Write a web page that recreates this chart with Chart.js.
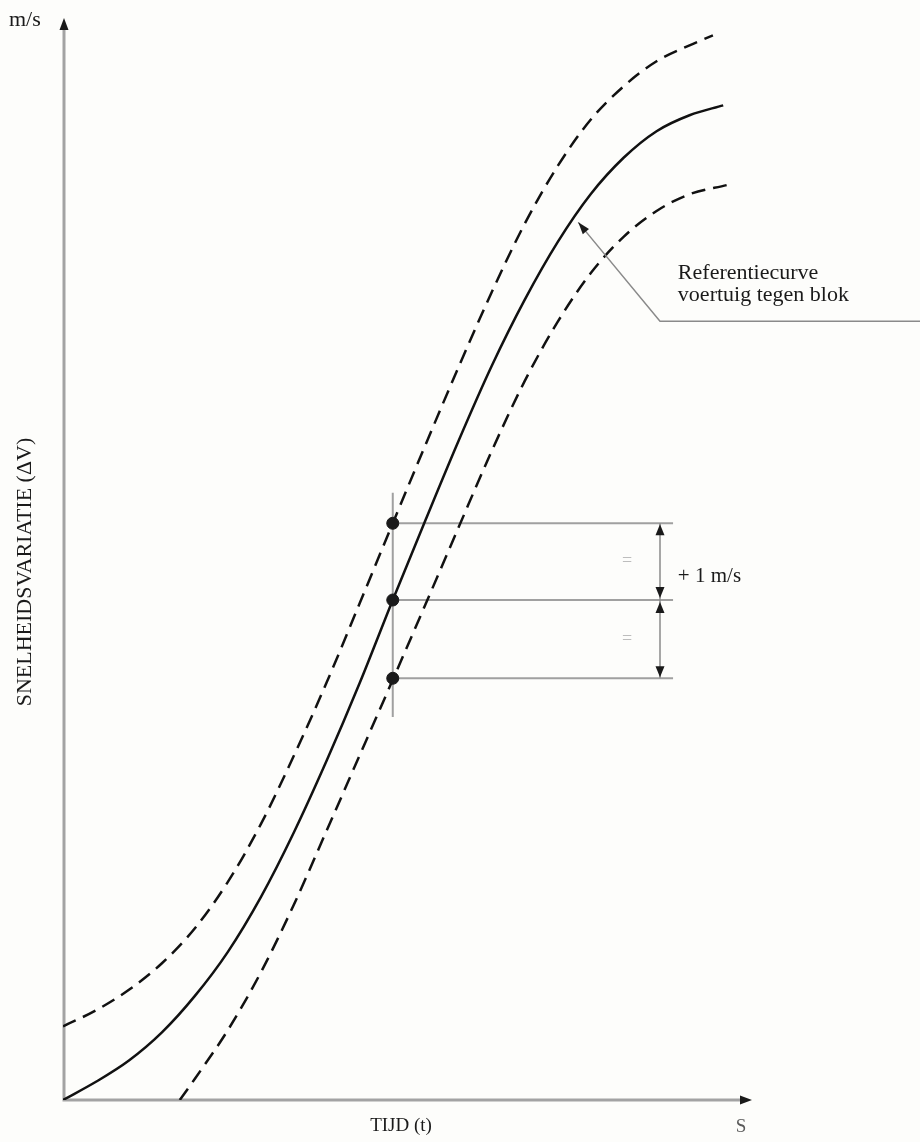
<!DOCTYPE html>
<html>
<head>
<meta charset="utf-8">
<script src="https://cdn.jsdelivr.net/npm/chart.js@4"></script>
<style>
  html, body { margin: 0; padding: 0; background: #fdfdfb; }
  #wrap { width: 920px; height: 1142px; position: relative; }
</style>
</head>
<body>
<div id="wrap"><canvas id="grafico" width="920" height="1142"></canvas></div>
<script>
// referentiecurve (doorgetrokken lijn)
const tijdRef = [0, 4.8, 9.6, 14.4, 19.2, 24.0, 28.8, 33.6, 38.4, 43.2, 48.0, 52.8, 57.6, 62.4, 67.2, 72.0, 76.8, 81.6, 86.4, 91.2, 96.1];
const dvRef = [0, 0.24, 0.52, 0.89, 1.37, 1.95, 2.67, 3.52, 4.47, 5.49, 6.58, 7.64, 8.68, 9.66, 10.53, 11.29, 11.92, 12.40, 12.75, 12.96, 13.09];

// bovengrens (+1 m/s, gestreept)
const tijdBoven = [0, 4.8, 9.6, 14.4, 19.2, 24.0, 28.8, 33.6, 38.4, 43.2, 48.0, 52.8, 57.6, 62.4, 67.2, 72.0, 76.8, 81.6, 86.4, 91.2, 94.6];
const dvBoven = [0.97, 1.18, 1.45, 1.80, 2.26, 2.87, 3.63, 4.53, 5.50, 6.54, 7.59, 8.63, 9.65, 10.63, 11.53, 12.29, 12.90, 13.34, 13.67, 13.88, 14.01];

// ondergrens (-1 m/s, gestreept)
const tijdOnder = [17.0, 19.2, 24.0, 28.8, 33.6, 38.4, 43.2, 48.0, 52.8, 57.6, 62.4, 67.2, 72.0, 76.8, 81.6, 86.4, 91.2, 96.6];
const dvOnder = [0, 0.28, 0.92, 1.68, 2.57, 3.55, 4.54, 5.53, 6.53, 7.54, 8.54, 9.46, 10.24, 10.88, 11.36, 11.70, 11.92, 12.04];

// meetpunten op t = 48
const puntT = [48, 48, 48];
const puntDv = [7.59, 6.58, 5.55];

function punten(xs, ys) {
    return xs.map(function (x, i) { return { x: x, y: ys[i] }; });
}

const serif = '"Liberation Serif", "Times New Roman", serif';

function pijlpunt(ctx, x, y, dx, dy, len, half) {
    // dx,dy = richting van de punt
    const nx = -dy, ny = dx;
    ctx.beginPath();
    ctx.moveTo(x, y);
    ctx.lineTo(x - dx * len + nx * half, y - dy * len + ny * half);
    ctx.lineTo(x - dx * len - nx * half, y - dy * len - ny * half);
    ctx.closePath();
    ctx.fill();
}

const tekening = {
    id: "tekening",
    beforeDraw: function (chart) {
        const ctx = chart.ctx;
        ctx.save();
        ctx.fillStyle = "#fdfdfb";
        ctx.fillRect(0, 0, chart.width, chart.height);
        ctx.restore();
    },
    beforeDatasetsDraw: function (chart) {
        const ctx = chart.ctx, a = chart.chartArea;
        const sx = chart.scales.x, sy = chart.scales.y;
        ctx.save();

        // assen
        ctx.strokeStyle = "#a3a3a3";
        ctx.lineWidth = 3;
        ctx.beginPath();
        ctx.moveTo(a.left + 1, a.top + 6);
        ctx.lineTo(a.left + 1, a.bottom);
        ctx.lineTo(a.right - 6, a.bottom);
        ctx.stroke();
        ctx.fillStyle = "#1a1a1a";
        pijlpunt(ctx, a.left + 1, a.top - 3, 0, -1, 12, 4.5);
        pijlpunt(ctx, a.right + 2, a.bottom, 1, 0, 12, 4.5);

        // hulplijnen
        const xp = sx.getPixelForValue(puntT[0]);
        const xr = sx.getPixelForValue(88.8);
        ctx.strokeStyle = "#a0a0a0";
        ctx.lineWidth = 2;
        ctx.beginPath();
        ctx.moveTo(xp, sy.getPixelForValue(7.99));
        ctx.lineTo(xp, sy.getPixelForValue(5.04));
        puntDv.forEach(function (v) {
            const y = sy.getPixelForValue(v);
            ctx.moveTo(xp, y);
            ctx.lineTo(xr, y);
        });
        ctx.stroke();

        // maatpijlen
        const xa = sx.getPixelForValue(86.9);
        const y0 = sy.getPixelForValue(puntDv[0]);
        const y1 = sy.getPixelForValue(puntDv[1]);
        const y2 = sy.getPixelForValue(puntDv[2]);
        ctx.strokeStyle = "#8a8a8a";
        ctx.lineWidth = 1.5;
        ctx.beginPath();
        ctx.moveTo(xa, y0); ctx.lineTo(xa, y2);
        ctx.stroke();
        ctx.fillStyle = "#1a1a1a";
        pijlpunt(ctx, xa, y0 + 1, 0, -1, 11, 4.5);
        pijlpunt(ctx, xa, y1 - 2, 0, 1, 11, 4.5);
        pijlpunt(ctx, xa, y1 + 2, 0, -1, 11, 4.5);
        pijlpunt(ctx, xa, y2 - 1, 0, 1, 11, 4.5);

        // gelijktekens
        ctx.fillStyle = "#bdbdbd";
        ctx.font = "18px " + serif;
        ctx.textAlign = "center";
        ctx.textBaseline = "middle";
        const xe = sx.getPixelForValue(82.1);
        ctx.fillText("=", xe, (y0 + y1) / 2);
        ctx.fillText("=", xe, (y1 + y2) / 2);

        ctx.restore();
    },
    afterDatasetsDraw: function (chart) {
        const ctx = chart.ctx;
        const sx = chart.scales.x, sy = chart.scales.y;
        ctx.save();

        // verwijslijn
        const tx = sx.getPixelForValue(75.0), ty = sy.getPixelForValue(11.55);
        const ex = sx.getPixelForValue(86.9), ey = sy.getPixelForValue(10.25);
        ctx.strokeStyle = "#8a8a8a";
        ctx.lineWidth = 1.5;
        ctx.beginPath();
        ctx.moveTo(tx, ty);
        ctx.lineTo(ex, ey);
        ctx.lineTo(chart.width, ey);
        ctx.stroke();
        const d = Math.hypot(tx - ex, ty - ey);
        ctx.fillStyle = "#1a1a1a";
        pijlpunt(ctx, tx, ty, (tx - ex) / d, (ty - ey) / d, 12, 4);

        // teksten
        ctx.fillStyle = "#1a1a1a";
        ctx.font = "22px " + serif;
        ctx.textAlign = "left";
        ctx.textBaseline = "alphabetic";
        const lx = sx.getPixelForValue(89.5);
        ctx.fillText("Referentiecurve", lx, ey - 42);
        ctx.fillText("voertuig tegen blok", lx, ey - 20);
        ctx.font = "21px " + serif;
        ctx.fillText("+ 1 m/s", lx, sy.getPixelForValue(6.91) + 7);

        ctx.font = "22px " + serif;
        ctx.fillText("m/s", 9, 26);

        ctx.font = "19px " + serif;
        ctx.textAlign = "center";
        ctx.fillText("TIJD (t)", 401, 1131);
        ctx.fillStyle = "#5a5a5a";
        ctx.fillText("S", 741, 1132);

        ctx.fillStyle = "#1a1a1a";
        ctx.font = "22px " + serif;
        ctx.translate(25, 572);
        ctx.rotate(-Math.PI / 2);
        ctx.textBaseline = "middle";
        ctx.fillText("SNELHEIDSVARIATIE (\u0394V)", 0, 0);

        ctx.restore();
    }
};

document.addEventListener("DOMContentLoaded", function () {

    new Chart(document.getElementById("grafico"), {
        type: "line",
        data: {
            datasets: [
                {
                    type: "scatter",
                    label: "Meetpunten",
                    data: punten(puntT, puntDv),
                    pointRadius: 6,
                    pointBackgroundColor: "#1a1a1a",
                    pointBorderColor: "#1a1a1a",
                    showLine: false
                },
                {
                    label: "Referentiecurve",
                    data: punten(tijdRef, dvRef),
                    borderColor: "#111111",
                    borderWidth: 2.5,
                    pointRadius: 0,
                    cubicInterpolationMode: "monotone"
                },
                {
                    label: "+1 m/s",
                    data: punten(tijdBoven, dvBoven),
                    borderColor: "#111111",
                    borderWidth: 2.5,
                    borderDash: [14, 8],
                    pointRadius: 0,
                    cubicInterpolationMode: "monotone"
                },
                {
                    label: "-1 m/s",
                    data: punten(tijdOnder, dvOnder),
                    borderColor: "#111111",
                    borderWidth: 2.5,
                    borderDash: [14, 8],
                    pointRadius: 0,
                    cubicInterpolationMode: "monotone"
                }
            ]
        },
        options: {
            responsive: false,
            animation: false,
            layout: { padding: { left: 63, top: 21, right: 170, bottom: 42 } },
            plugins: {
                legend: { display: false },
                tooltip: { enabled: false }
            },
            scales: {
                x: { type: "linear", min: 0, max: 100, display: false },
                y: { type: "linear", min: 0, max: 14.2, display: false }
            }
        },
        plugins: [tekening]
    });

});
</script>
</body>
</html>
